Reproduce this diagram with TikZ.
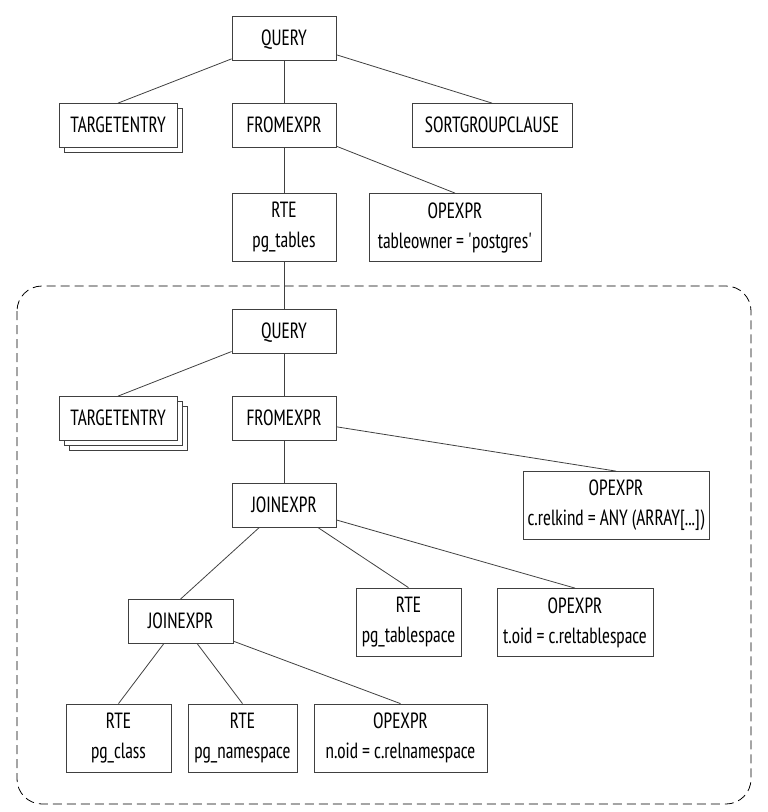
\documentclass[tikz,border=0pt]{standalone}
\usepackage{fontspec}
\setmainfont[FakeStretch=0.87]{PT Sans Narrow}
\usetikzlibrary{shadows}
\begin{document}
\begin{tikzpicture}[x=1pt, y=-1pt, line width=.8pt, draw=black!75,
  font=\fontsize{22}{30}\selectfont,
  box/.style={draw=black!75, fill=white, inner sep=0pt, minimum width=#1},
  onebox/.style={box=#1, minimum height=44pt, text height=14.5pt, text depth=0pt},
  twobox/.style={box=#1, minimum height=68pt, align=center},
  stackone/.style={copy shadow={shadow xshift=5pt, shadow yshift=-5pt}},
  stacktwo/.style={double copy shadow={shadow xshift=5pt, shadow yshift=-5pt}},
  edge/.style={draw=black!75}]
\useasboundingbox (0,0) rectangle (768,812);

\draw[black, dash pattern=on 9pt off 5pt, rounded corners=25pt] (17,286) rectangle (751,804);

\node[onebox=104] (query) at (284,38.5) {QUERY};
\node[onebox=118, stackone] (target) at (118,125.5) {TARGETENTRY};
\node[onebox=104] (from) at (284,125.5) {FROMEXPR};
\node[onebox=160] (sortgroup) at (492,125.5) {SORTGROUPCLAUSE};
\node[twobox=104] (rtetables) at (284,227.5) {RTE\\pg\_tables};
\node[twobox=172] (opowner) at (455,227.5) {OPEXPR\\tableowner = \textquotesingle postgres\textquotesingle};

\node[onebox=104] (subquery) at (284,331) {QUERY};
\node[onebox=118, stacktwo] (subtarget) at (118,418.5) {TARGETENTRY};
\node[onebox=104] (subfrom) at (284,418.5) {FROMEXPR};
\node[twobox=186] (oprelkind) at (616,505.5) {OPEXPR\\c.relkind = ANY (ARRAY[...])};
\node[onebox=104] (joinouter) at (284,505) {JOINEXPR};
\node[twobox=105] (rtetblspc) at (408.5,622) {RTE\\pg\_tablespace};
\node[twobox=156] (optblspc) at (575,622.5) {OPEXPR\\t.oid = c.reltablespace};
\node[onebox=105] (joininner) at (180.5,621.5) {JOINEXPR};
\node[twobox=105] (rteclass) at (118.5,738) {RTE\\pg\_class};
\node[twobox=109] (rtensp) at (242.5,738) {RTE\\pg\_namespace};
\node[twobox=173] (opnsp) at (400.5,738) {OPEXPR\\n.oid = c.relnamespace};

\draw[edge] (query) -- (target.north);
\draw[edge] (query) -- (from.north);
\draw[edge] (query) -- (sortgroup.north);
\draw[edge] (from) -- (rtetables.north);
\draw[edge] (from) -- (opowner.north);
\draw[edge] (rtetables) -- (subquery.north);
\draw[edge] (subquery) -- (subtarget.north);
\draw[edge] (subquery) -- (subfrom.north);
\draw[edge] (subfrom) -- (joinouter.north);
\draw[edge] (subfrom) -- (oprelkind.north);
\draw[edge] (joinouter) -- (joininner.north);
\draw[edge] (joinouter) -- (rtetblspc.north);
\draw[edge] (joinouter) -- (optblspc.north);
\draw[edge] (joininner) -- (rteclass.north);
\draw[edge] (joininner) -- (rtensp.north);
\draw[edge] (joininner) -- (opnsp.north);
\end{tikzpicture}
\end{document}
